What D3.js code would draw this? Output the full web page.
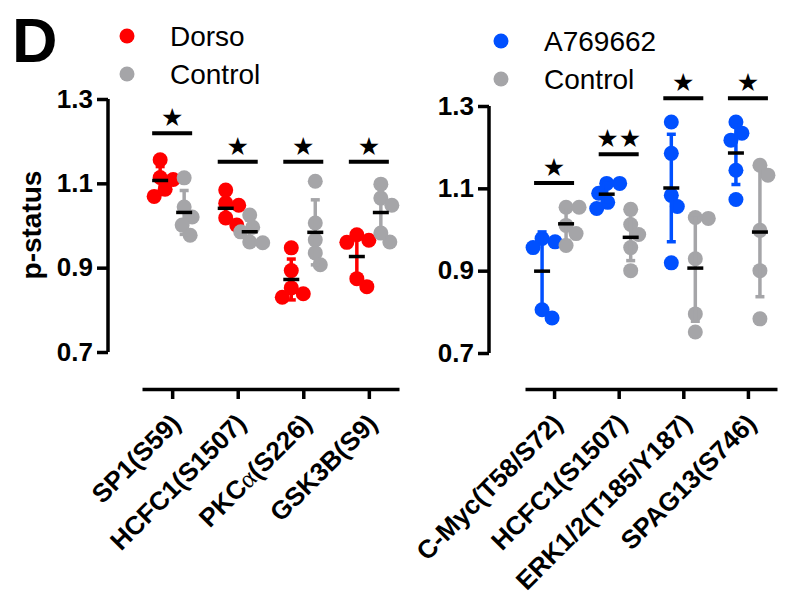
<!DOCTYPE html>
<html>
<head>
<meta charset="utf-8">
<script src="https://cdn.jsdelivr.net/npm/d3@7"></script>
<style>
  body { margin: 0; background: #fff; }
  svg { display: block; font-family: "Liberation Sans", Arial, sans-serif; }
</style>
</head>
<body>
<svg id="chart" width="790" height="597"></svg>
<script>
// ---------------- DATA ----------------
const yTicks = [0.7, 0.9, 1.1, 1.3];

const leftCategories = ["SP1(S59)", "HCFC1(S1507)", "PKCα(S226)", "GSK3B(S9)"];
const leftDorso = [
  [1.156, 1.109, 1.114, 1.086, 1.069],
  [1.084, 1.048, 1.053, 1.018, 1.001],
  [0.947, 0.893, 0.852, 0.838, 0.830],
  [0.978, 0.965, 0.960, 0.874, 0.855]
];
const leftControl = [
  [1.113, 1.044, 1.020, 1.001, 0.977],
  [1.025, 0.996, 0.985, 0.959, 0.961],
  [1.105, 1.006, 0.966, 0.935, 0.907],
  [1.098, 1.065, 1.048, 0.961, 0.982]
];
const leftSigLevel = [1.219, 1.151, 1.151, 1.151];
const leftSigStars = ["★", "★", "★", "★"];

const rightCategories = ["C-Myc(T58/S72)", "HCFC1(S1507)", "ERK1/2(T185/Y187)", "SPAG13(S746)"];
const rightA769662 = [
  [0.978, 0.970, 0.956, 0.805, 0.785],
  [1.112, 1.112, 1.088, 1.066, 1.051],
  [1.261, 1.185, 1.083, 1.056, 0.919],
  [1.261, 1.234, 1.217, 1.144, 1.073]
];
const rightControl = [
  [1.054, 1.054, 1.010, 0.990, 0.961],
  [1.049, 1.012, 0.988, 0.956, 0.900],
  [1.027, 1.029, 0.929, 0.795, 0.751],
  [1.156, 1.132, 0.998, 0.900, 0.783]
];
const rightSigLevel = [1.113, 1.183, 1.319, 1.319];
const rightSigStars = ["★", "★★", "★", "★"];

const legendLeft = ["Dorso", "Control"];
const legendRight = ["A769662", "Control"];

// ---------------- STYLE ----------------
const RED = "#ff0000", GRAY = "#a5a5a8", BLUE = "#0050ff";
const R = 7.5;

const svg = d3.select("#chart");

// Panel letter
svg.append("text").attr("x", 12).attr("y", 62)
  .attr("font-size", 63).attr("font-weight", "bold").text("D");

// Y title
svg.append("text")
  .attr("transform", "translate(41,225) rotate(-90)")
  .attr("text-anchor", "middle")
  .attr("font-size", 28).attr("font-weight", "bold")
  .text("p-status");

function dodge(values, y, cx, minDist) {
  const idx = values.map((v, i) => i).sort((a, b) => values[b] - values[a]);
  const placed = [];
  const out = new Array(values.length);
  const cands = [0];
  for (let k = 1; k <= 40; k++) { cands.push(k, -k); }
  idx.forEach(i => {
    const py = y(values[i]);
    let px = cx;
    for (const c of cands) {
      const tx = cx + c;
      if (placed.every(p => Math.hypot(p[0] - tx, p[1] - py) >= minDist)) { px = tx; break; }
    }
    placed.push([px, py]);
    out[i] = [px, py];
  });
  return out;
}

function panel(opts) {
  const { axisX, yRange, xRange, xPad, cats, treated, control, tColor, sigLevel, sigStars } = opts;
  const y = d3.scaleLinear().domain([0.7, 1.3]).range(yRange);
  const x = d3.scalePoint().domain(cats).range(xRange).padding(xPad);
  const g = svg.append("g");

  // Y axis
  const ya = g.append("g").attr("transform", `translate(${axisX},0)`)
    .call(d3.axisLeft(y).tickValues(yTicks).tickFormat(d3.format(".1f")).tickSize(11).tickSizeOuter(0).tickPadding(4));
  ya.select(".domain").attr("stroke-width", 3.5).attr("d", `M0,${yRange[0]}V${yRange[1]}`);
  ya.selectAll(".tick line").attr("stroke-width", 3.5);
  ya.selectAll(".tick text").attr("font-size", 26).attr("font-weight", "bold")
    .attr("font-family", "Liberation Sans, Arial, sans-serif").attr("fill", "#000");

  // X axis
  const xa = g.append("g").attr("transform", "translate(0,389)")
    .call(d3.axisBottom(x).tickSize(10).tickSizeOuter(0).tickFormat(""));
  xa.select(".domain").attr("stroke-width", 3.5);
  xa.selectAll(".tick line").attr("stroke-width", 3.5);

  // X labels
  cats.forEach(c => {
    const t = g.append("text")
      .attr("transform", `translate(${x(c) + 10},425) rotate(-45)`)
      .attr("text-anchor", "end")
      .attr("font-size", 26).attr("font-weight", "bold");
    if (c.includes("α")) {
      const parts = c.split("α");
      t.append("tspan").text(parts[0]);
      t.append("tspan").attr("font-family", "Liberation Serif, serif").attr("font-weight", "normal").text("α");
      t.append("tspan").text(parts[1]);
    } else {
      t.text(c);
    }
  });

  const groups = [
    { data: treated, color: tColor, off: -12 },
    { data: control, color: GRAY, off: 12 }
  ];

  groups.forEach(grp => {
    grp.data.forEach((vals, ci) => {
      const cx = x(cats[ci]) + grp.off;
      const pos = dodge(vals, y, cx, 12.5);
      g.selectAll(null).data(pos).enter().append("circle")
        .attr("cx", d => d[0]).attr("cy", d => d[1]).attr("r", R)
        .attr("fill", grp.color);
    });
  });

  groups.forEach(grp => {
    grp.data.forEach((vals, ci) => {
      const cx = x(cats[ci]) + grp.off;
      const m = d3.mean(vals), sd = d3.deviation(vals);
      g.append("line").attr("x1", cx).attr("x2", cx)
        .attr("y1", y(m - sd)).attr("y2", y(m + sd))
        .attr("stroke", grp.color).attr("stroke-width", 3.5);
      [m - sd, m + sd].forEach(v => {
        g.append("line").attr("x1", cx - 4.5).attr("x2", cx + 4.5)
          .attr("y1", y(v)).attr("y2", y(v))
          .attr("stroke", grp.color).attr("stroke-width", 3.5);
      });
      g.append("line").attr("x1", cx - 8).attr("x2", cx + 8)
        .attr("y1", y(m)).attr("y2", y(m))
        .attr("stroke", "#000").attr("stroke-width", 3.5);
    });
  });

  // Significance bars
  cats.forEach((c, ci) => {
    const cx = x(c);
    const by = y(sigLevel[ci]);
    g.append("line").attr("x1", cx - 20).attr("x2", cx + 20)
      .attr("y1", by).attr("y2", by).attr("stroke", "#000").attr("stroke-width", 4);
    g.append("text").attr("x", cx).attr("y", by - 7)
      .attr("text-anchor", "middle").attr("font-family", "DejaVu Sans, sans-serif")
      .attr("font-size", 25).attr("letter-spacing", 0).text(sigStars[ci]);
  });
}

panel({ axisX: 108, yRange: [352, 99], xRange: [142, 399], xPad: 0.46,
  cats: leftCategories, treated: leftDorso, control: leftControl, tColor: RED,
  sigLevel: leftSigLevel, sigStars: leftSigStars });

panel({ axisX: 489, yRange: [353, 106], xRange: [525, 777], xPad: 0.45,
  cats: rightCategories, treated: rightA769662, control: rightControl, tColor: BLUE,
  sigLevel: rightSigLevel, sigStars: rightSigStars });

// Legends
function legend(x0, y0, labels, colors) {
  labels.forEach((l, i) => {
    const cy = y0 + i * 38;
    svg.append("circle").attr("cx", x0).attr("cy", cy).attr("r", 7.5).attr("fill", colors[i]);
    svg.append("text").attr("x", x0 + 43).attr("y", cy + 10)
      .attr("font-size", 28).text(l);
  });
}
legend(127, 36, legendLeft, [RED, GRAY]);
legend(501, 41, legendRight, [BLUE, GRAY]);
</script>
</body>
</html>
